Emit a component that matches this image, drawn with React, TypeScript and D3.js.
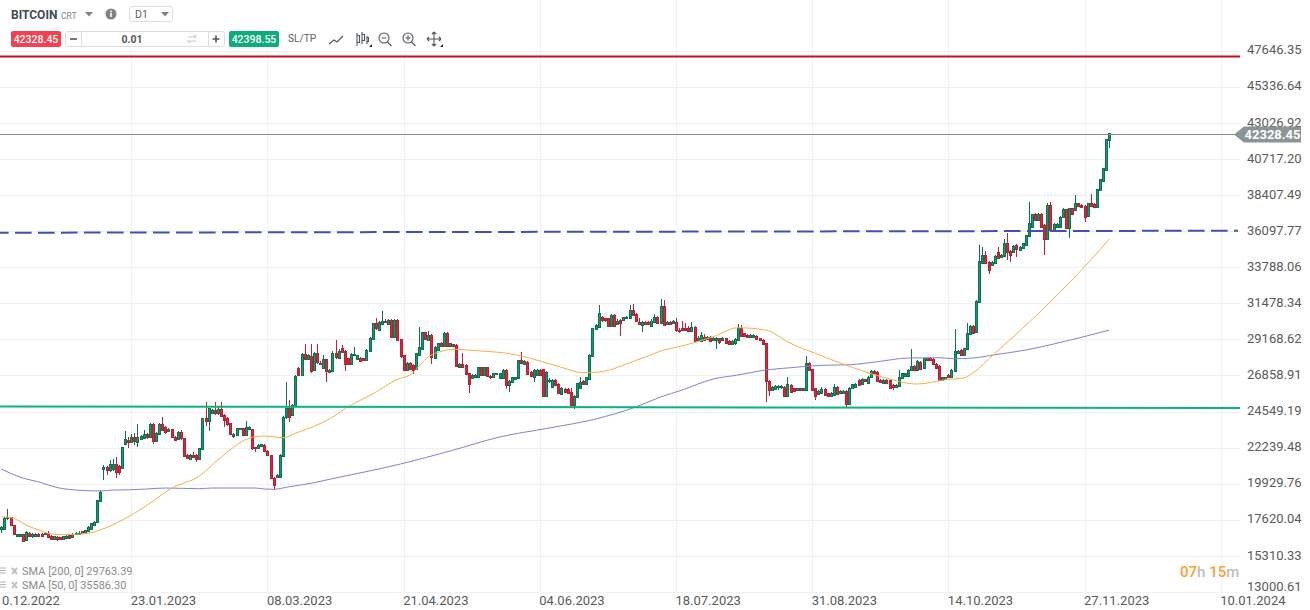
import { useEffect, useRef } from "react";
import * as d3 from "d3";

const WIDTH = 1310;
const HEIGHT = 610;

const priceTicks = [47646.35, 45336.64, 43026.92, 40717.2, 38407.49, 36097.77, 33788.06, 31478.34, 29168.62, 26858.91, 24549.19, 22239.48, 19929.76, 17620.04, 15310.33, 13000.61];
const dateTicks = ["10.12.2022", "23.01.2023", "08.03.2023", "21.04.2023", "04.06.2023", "18.07.2023", "31.08.2023", "14.10.2023", "27.11.2023", "10.01.2024"];
const firstCandleDay = "12.12.2022";
const currentPrice = 42328.45;

// daily candles
const opens = [
  17012, 17055, 17737, 17780, 17289, 16564, 16564, 16692, 16308, 16799,
  16628, 16628, 16735, 16735, 16670, 16799, 16585, 16372, 16543, 16500,
  16372, 16500, 16670, 16543, 16692, 16713, 16884, 16799, 16884, 17012,
  17310, 17460, 18825, 20852, 20979, 20766, 20852, 21171, 21065, 20937,
  22430, 22707, 22600, 22899, 22643, 22814, 22856, 23112, 22899, 23752,
  22643, 23112, 23752, 23539, 23262, 23411, 22943, 22772, 23220, 22836,
  21790, 21556, 21790, 21790, 21513, 22132, 24116, 23902, 24478, 24648,
  24435, 24713, 24350, 24116, 23795, 22942, 23006, 23411, 23475, 23049,
  23411, 23411, 22260, 22196, 22303, 22410, 22025, 21769, 20319, 20362,
  20404, 21748, 24180, 24755, 24350, 24926, 27315, 26910, 28232, 27934,
  28104, 27166, 28275, 27678, 27315, 27891, 27060, 27102, 28275, 28019,
  28617, 28446, 27955, 27593, 28190, 27913, 27998, 27955, 27848, 28382,
  29171, 30195, 29811, 30195, 30323, 30152, 30408, 29342, 30408, 29171,
  28169, 27209, 27678, 27529, 27273, 28169, 28531, 29619, 29129, 29448,
  27955, 28489, 28958, 28745, 29555, 28745, 28851, 28809, 27380, 27593,
  27529, 26995, 26718, 26740, 26718, 27379, 26889, 27379, 26825, 26718,
  26910, 26676, 26676, 27209, 26249, 26398, 26612, 26676, 27848, 27593,
  27742, 27102, 26782, 26889, 27209, 27252, 25545, 26500, 26100, 26569,
  26313, 25716, 26014, 25993, 25822, 24969, 25460, 26100, 26526, 26313,
  26612, 28105, 29811, 29982, 30622, 30515, 30515, 30024, 30728, 30195,
  30408, 30366, 30515, 30515, 31048, 30792, 30302, 30088, 30302, 30302,
  30024, 30302, 30622, 30238, 31304, 30195, 30302, 30195, 30259, 29790,
  29918, 29918, 29918, 29726, 29982, 29086, 29086, 29342, 29235, 29342,
  29129, 29129, 29235, 29129, 29235, 29086, 28915, 28915, 29086, 29875,
  29555, 29448, 29300, 29342, 29385, 29235, 29129, 28915, 26526, 25929,
  25972, 26100, 26100, 26142, 25545, 26249, 26036, 25886, 26036, 25886,
  25886, 27678, 27252, 26036, 25652, 25716, 25993, 25716, 25545, 25609,
  26142, 25716, 25758, 25886, 25033, 26036, 26100, 26569, 26313, 26612,
  26398, 26740, 27145, 27102, 26569, 26398, 26569, 26569, 26249, 26100,
  26142, 26676, 26825, 26825, 27209, 27465, 27252, 27742, 27315, 27955,
  27955, 27913, 27593, 27465, 26569, 26612, 26889, 26740, 27166, 28318,
  28489, 28169, 28531, 29512, 30024, 29662, 31583, 34079, 34569, 34143,
  33930, 34079, 34783, 34420, 34463, 35315, 34847, 34783, 35209, 34932,
  34996, 35209, 35785, 36383, 37193, 36809, 37193, 36489, 35572, 37769,
  36169, 36383, 36383, 36980, 37492, 36276, 37555, 37449, 37875, 37769,
  37705, 37022, 37875, 37833, 37620, 38686, 39262, 40009, 41886,
];
const highs = [
  17225, 17780, 18292, 17823, 17310, 16713, 16735, 16735, 16905, 16841,
  16756, 16756, 16756, 16770, 16820, 16884, 16628, 16585, 16585, 16543,
  16607, 16650, 16720, 16756, 16820, 16927, 16927, 16990, 17200, 17420,
  17525, 18910, 19500, 21107, 21065, 21449, 21491, 21619, 21107, 22302,
  23283, 22942, 23112, 23155, 23752, 23070, 23368, 23197, 23838, 23838,
  23240, 23795, 24179, 23600, 23475, 23450, 23000, 23300, 23368, 22880,
  21830, 21830, 21982, 21850, 22240, 24160, 25182, 24800, 24700, 25182,
  24900, 25182, 24400, 24170, 23840, 23150, 23520, 23520, 23520, 23945,
  23620, 23460, 22300, 22460, 22500, 22470, 22070, 21800, 20360, 20530,
  21830, 24270, 26462, 25289, 25030, 26870, 27400, 28300, 28872, 28210,
  28872, 28340, 28872, 27800, 28180, 27940, 27250, 28400, 29128, 28530,
  28809, 28500, 28000, 28270, 28702, 28180, 28050, 28000, 28550, 29300,
  30240, 30515, 30350, 30984, 30450, 30450, 30450, 30450, 30450, 29200,
  28200, 27700, 27720, 27570, 28320, 29982, 29660, 29660, 29725, 29490,
  28720, 28950, 29000, 29620, 29640, 28960, 28900, 28850, 27640, 28275,
  27570, 27040, 26930, 26930, 27400, 27420, 27420, 27420, 26870, 27040,
  27040, 27040, 27250, 27250, 26550, 26750, 26760, 27880, 28382, 27840,
  27790, 27140, 27250, 27250, 27300, 27290, 27140, 26700, 26660, 26650,
  26350, 26100, 26050, 26030, 26036, 25600, 26400, 26740, 26570, 26780,
  28210, 29920, 30130, 31368, 30660, 30560, 30560, 30770, 30770, 30450,
  30450, 30620, 30680, 31368, 31432, 30830, 30515, 30350, 30340, 30340,
  30450, 30800, 30660, 31730, 31690, 30340, 30340, 30400, 30515, 29900,
  30366, 30195, 30000, 30259, 30020, 29400, 29620, 29520, 29400, 29380,
  29320, 29320, 29280, 29300, 29280, 29120, 29150, 29230, 30131, 30088,
  29600, 29490, 29490, 29490, 29430, 29280, 29170, 28958, 26570, 26180,
  26230, 26250, 26260, 26190, 26782, 26300, 26080, 26080, 26080, 26080,
  28105, 27720, 27290, 26080, 25900, 26100, 26040, 25760, 25800, 26313,
  26190, 25900, 25930, 25930, 26120, 26320, 26350, 26610, 26720, 26650,
  26830, 27180, 27190, 27140, 26610, 26610, 26610, 26610, 26290, 26290,
  27209, 27040, 27040, 27250, 28532, 27500, 27850, 27790, 28000, 28000,
  28060, 27960, 27640, 27510, 26760, 26760, 26930, 27250, 29811, 28500,
  28530, 28640, 30195, 30100, 30060, 31690, 35209, 35103, 34846, 34190,
  34190, 34600, 35100, 34620, 35571, 35955, 34890, 35200, 35250, 35150,
  35360, 35870, 37982, 37220, 37230, 37230, 37230, 36530, 37876, 37982,
  36600, 36600, 37060, 37560, 37530, 37590, 37600, 38409, 37920, 37810,
  37750, 37900, 38473, 37880, 38800, 39430, 40160, 41980, 42400,
];
const lows = [
  16799, 16969, 17609, 17225, 16649, 16500, 16500, 16201, 16244, 16564,
  16479, 16585, 16607, 16607, 16628, 16500, 16350, 16330, 16287, 16330,
  16330, 16460, 16460, 16500, 16650, 16680, 16713, 16760, 16860, 16990,
  17260, 17440, 18800, 20169, 20489, 20700, 20766, 20318, 20489, 20852,
  22387, 22238, 22515, 22430, 22302, 22750, 22800, 22814, 22856, 22451,
  22600, 23070, 23283, 23112, 23220, 22860, 22750, 22700, 22750, 21620,
  21560, 21470, 21620, 21342, 21470, 22090, 23630, 23326, 24400, 24350,
  24300, 24200, 23540, 23630, 23020, 22850, 22960, 23370, 23000, 23000,
  23370, 22110, 21980, 22130, 22260, 21980, 21740, 20240, 19530, 20300,
  20360, 21700, 24100, 23902, 24300, 24880, 26850, 26860, 27830, 27880,
  26995, 27120, 27600, 27500, 27270, 26462, 27000, 27060, 27900, 27970,
  28270, 27166, 27500, 27550, 28130, 27850, 27740, 27800, 27800, 28340,
  29130, 29780, 29768, 30100, 30200, 30100, 29300, 29250, 29050, 27980,
  27150, 27150, 27270, 26950, 27230, 28100, 28490, 29100, 29090, 27593,
  27900, 28440, 28670, 28700, 28700, 28700, 28660, 27400, 27340, 27380,
  26900, 25759, 26670, 26700, 26670, 26850, 26850, 26740, 26640, 26670,
  26870, 26640, 26640, 25972, 25822, 26350, 26570, 26640, 27590, 27550,
  26950, 26780, 26462, 26850, 26850, 25460, 25500, 26400, 26050, 26200,
  25680, 25660, 25770, 25680, 24910, 24692, 25420, 26060, 26300, 26270,
  26570, 28060, 29770, 29940, 30300, 30300, 29980, 29980, 29980, 30150,
  29406, 30320, 30470, 30470, 30680, 30320, 30100, 29662, 30110, 30110,
  29980, 30260, 30200, 30200, 30020, 30150, 30150, 30150, 29662, 29560,
  29730, 29730, 29700, 29680, 29060, 29050, 29050, 29080, 29190, 28990,
  29090, 28530, 28900, 29090, 28870, 28870, 28870, 28809, 29040, 29370,
  29300, 29250, 29250, 29300, 29130, 29040, 28780, 25182, 25545, 25890,
  25930, 25950, 25980, 25500, 25500, 25780, 25800, 25840, 25880, 25840,
  25840, 27160, 25850, 25289, 25610, 25670, 25560, 25450, 25500, 25560,
  25670, 25670, 25710, 24820, 24990, 25990, 26060, 26200, 26270, 26420,
  26350, 26700, 26990, 26480, 26420, 26350, 26350, 25990, 25929, 26060,
  26100, 26640, 26780, 26780, 27160, 27160, 27210, 27270, 27270, 27800,
  27800, 27550, 27270, 26520, 26530, 26570, 26700, 26700, 27120, 28270,
  28100, 28130, 28490, 29470, 29590, 29620, 31540, 34040, 34000, 33354,
  33880, 33980, 34370, 34370, 34420, 34250, 34143, 34740, 34463, 34890,
  34950, 35170, 35740, 36340, 36770, 36770, 36340, 34569, 35530, 36120,
  36120, 36340, 36340, 36940, 36240, 35635, 37160, 37410, 37620, 37600,
  36700, 36980, 37620, 37620, 37580, 38640, 39220, 39960, 41395,
];
const closes = [
  17140, 17737, 17780, 17268, 16713, 16692, 16692, 16244, 16841, 16607,
  16735, 16735, 16628, 16628, 16756, 16543, 16372, 16564, 16393, 16372,
  16564, 16607, 16500, 16713, 16778, 16799, 16756, 16948, 17161, 17396,
  17503, 18889, 19422, 20979, 20766, 21171, 21171, 20681, 20681, 22259,
  22771, 22558, 22899, 22643, 22942, 22984, 23112, 22899, 23752, 22643,
  23155, 23752, 23368, 23197, 23411, 22900, 22772, 23220, 22836, 21662,
  21620, 21790, 21662, 21556, 22196, 24116, 23902, 24755, 24648, 24435,
  24713, 24265, 24009, 23753, 23070, 23092, 23475, 23475, 23049, 23539,
  23539, 22196, 22175, 22410, 22452, 22025, 21769, 20276, 19849, 20489,
  21791, 24222, 24755, 24180, 24969, 26824, 26888, 28232, 27934, 28168,
  27166, 28275, 27678, 27636, 27891, 27102, 27208, 28275, 28019, 28446,
  28382, 27635, 27593, 28212, 28233, 28148, 27806, 27848, 28489, 29235,
  30195, 29875, 30302, 30366, 30238, 30408, 29342, 30408, 29129, 28062,
  27209, 27678, 27315, 27209, 28275, 28659, 29619, 29171, 29448, 28062,
  28659, 28915, 28745, 29598, 28745, 28915, 28702, 27465, 27593, 27422,
  26953, 26313, 26889, 26868, 27379, 26889, 27379, 26782, 26740, 26995,
  26995, 26995, 27209, 26249, 26526, 26740, 26740, 27848, 27635, 27806,
  26995, 26825, 27209, 27209, 26889, 25545, 27102, 26569, 26569, 26249,
  25716, 26078, 25822, 25716, 24969, 25545, 26356, 26462, 26356, 26740,
  28169, 29875, 30088, 30878, 30408, 30366, 30024, 30728, 30024, 30366,
  30195, 30579, 30579, 31048, 30728, 30366, 30152, 30302, 30152, 30152,
  30366, 30622, 30238, 31304, 30067, 30302, 30195, 30344, 29726, 29750,
  29768, 29768, 29726, 29982, 29086, 29235, 29448, 29129, 29342, 29065,
  29235, 29235, 28958, 29235, 28915, 28915, 29086, 29171, 29875, 29385,
  29342, 29300, 29448, 29448, 29171, 29086, 28851, 26462, 25929, 26100,
  26185, 26185, 26185, 25545, 26313, 25822, 25865, 26036, 25929, 26036,
  27635, 27209, 25886, 25545, 25865, 25993, 25609, 25545, 25716, 26142,
  25716, 25865, 25886, 25033, 26078, 26292, 26313, 26249, 26612, 26462,
  26782, 27145, 27038, 26526, 26462, 26569, 26398, 26036, 26100, 26249,
  26740, 26995, 26995, 27209, 27465, 27209, 27806, 27315, 27955, 27848,
  27848, 27593, 27315, 26569, 26740, 26740, 26740, 27209, 28425, 28446,
  28169, 28595, 29555, 30024, 29598, 31645, 34186, 34569, 34037, 33610,
  34143, 34506, 34420, 34569, 35315, 34719, 34569, 35145, 34932, 35103,
  35316, 35849, 36596, 37193, 36809, 37193, 36383, 35572, 37769, 36169,
  36553, 36553, 37022, 37492, 36276, 37555, 37193, 37875, 37662, 37662,
  37022, 37875, 37662, 37662, 38771, 39411, 40115, 41971, 42355,
];

// moving averages: candle number and value readings
const sma200Days = [0, 6, 13, 18, 24, 32, 36, 42, 47, 53, 64, 68, 82, 85, 88, 93, 100, 106, 129, 145, 161, 177, 192, 205, 213, 220, 230, 238, 247, 255, 265, 274, 283, 293, 303, 308, 314, 321, 331, 340, 349, 358];
const sma200Values = [20872, 20360, 19995, 19688, 19528, 19464, 19528, 19547, 19592, 19656, 19611, 19656, 19656, 19592, 19573, 19739, 19957, 20213, 21192, 22024, 22920, 23496, 24072, 24840, 25480, 25928, 26632, 26888, 27208, 27355, 27509, 27547, 27739, 27976, 27995, 27931, 27976, 28187, 28488, 28872, 29301, 29763];
const sma50Days = [0, 4, 8, 13, 16, 20, 28, 32, 37, 43, 48, 55, 64, 70, 75, 80, 85, 91, 95, 102, 106, 113, 120, 128, 132, 138, 143, 146, 155, 162, 171, 181, 188, 194, 203, 209, 214, 218, 230, 238, 247, 255, 263, 272, 285, 296, 306, 311, 314, 321, 330, 339, 352, 358];
const sma50Values = [17819, 17717, 17288, 16904, 16712, 16667, 16757, 16968, 17397, 18037, 18677, 19637, 20424, 21448, 22261, 22837, 22984, 22875, 23157, 23688, 24072, 24968, 25672, 26613, 26888, 28059, 28445, 28533, 28424, 28315, 27957, 27381, 27035, 27099, 27675, 28104, 28488, 28661, 29339, 29915, 29768, 28917, 28277, 27592, 26741, 26312, 26613, 26696, 27035, 28277, 29877, 31579, 34248, 35586];

// drawn levels: value at the left end, value at the right end
const redLevel = [47272, 47272];
const blueLevel = [35995, 36125];
const greenLevel = [24880, 24776];

const parseDay = d3.timeParse("%d.%m.%Y");

function Toolbar() {
  return (
    <g fontFamily="Roboto, sans-serif">
      <rect x={0} y={0} width={445} height={50} fill="#fff" />
      <text x={11} y={19} fontSize={12} fontWeight={700} fill="#3f4b55">BITCOIN</text>
      <text x={61} y={19} fontSize={8.5} fill="#7b848b">CRT</text>
      <path d="M85 12h8l-4 4.5z" fill="#7b848b" />
      <circle cx={111} cy={14} r={5.5} fill="#7b848b" />
      <rect x={110.2} y={13} width={1.6} height={4} fill="#fff" />
      <rect x={110.2} y={10.6} width={1.6} height={1.6} fill="#fff" />
      <rect x={129.5} y={6.5} width={43} height={15} rx={2} fill="#fff" stroke="#dcdfe1" />
      <text x={135} y={18} fontSize={10.5} fill="#59636b">D1</text>
      <path d="M161 12h8l-4 4.5z" fill="#7b848b" />

      <rect x={11} y={31} width={50} height={16} rx={2} fill="#f5404f" />
      <text x={36} y={43} fontSize={10.5} fontWeight={500} fill="#fff" textAnchor="middle">42328.45</text>
      <rect x={65.5} y={31.5} width={159} height={15} rx={2} fill="#fff" stroke="#dcdfe1" />
      <path d="M81.5 32v14M208.5 32v14" stroke="#dcdfe1" />
      <path d="M70 39h7" stroke="#555" strokeWidth={1.6} />
      <path d="M212.5 39h7M216 35.5v7" stroke="#555" strokeWidth={1.6} />
      <text x={132} y={43} fontSize={10.5} fontWeight={700} fill="#555" textAnchor="middle">0.01</text>
      <path d="M188 37h8l-2-2M196 41h-8l2 2" stroke="#c6c9cc" strokeWidth={1.2} fill="none" />
      <rect x={229} y={31} width={50} height={16} rx={2} fill="#0bae78" />
      <text x={254} y={43} fontSize={10.5} fontWeight={500} fill="#fff" textAnchor="middle">42398.55</text>
      <text x={288} y={42} fontSize={10.2} fill="#59636b">SL/TP</text>

      <g stroke="#4f565c" fill="none" strokeWidth={1.1}>
        <path d="M329 44l5-4 3 2 6-6" />
        <path d="M357 33v13M357 35.5h2.5v7h-2.5zM362 32v12M362 34.5h2.5v6h-2.5zM367 36v8M367 37.5h1.5v4h-1.5z" />
        <circle cx={384} cy={38} r={5} />
        <path d="M381.5 38h5M387.5 42l4 4" />
        <circle cx={408} cy={38} r={5} />
        <path d="M405.5 38h5M408 35.5v5M411.5 42l4 4" />
        <path d="M434 32v14M427 39h14M434 32l-2 2M434 32l2 2M434 46l-2-2M434 46l2-2M427 39l2-2M427 39l2 2M441 39l-2-2M441 39l-2 2" />
      </g>
      <path d="M369 47l3-3v3zM440 47l3-3v3z" fill="#222" />
    </g>
  );
}

function Legend() {
  return (
    <g fontFamily="Roboto, sans-serif" fontSize={11} fill="#8b8b8b">
      <text x={22} y={575}>SMA [200, 0] 29763.39</text>
      <text x={22} y={589}>SMA [50, 0] 35586.30</text>
      <g stroke="#b5b5b5" strokeWidth={1.2}>
        <path d="M0 568h6M0 570.5h6M0 573h6M0 582h6M0 584.5h6M0 587h6" />
      </g>
      <g stroke="#c4c4c4" strokeWidth={2}>
        <path d="M12 568l5 6M17 568l-5 6M12 582l5 6M17 582l-5 6" />
      </g>
    </g>
  );
}

function Countdown() {
  return (
    <text x={1180} y={577} fontFamily="Roboto, sans-serif" fontSize={15} fontWeight={500} fill="#bdbdbd">
      <tspan fill="#f9a22f">07</tspan>h <tspan fill="#f9a22f">15</tspan>m
    </text>
  );
}

function App() {
  const chartRef = useRef<SVGGElement>(null);

  useEffect(() => {
    if (!chartRef.current) return;

    const g = d3.select(chartRef.current);
    g.selectAll("*").remove();

    const y = d3.scaleLinear().domain([13000.61, 47646.35]).range([592, 50.7]);

    const tickDays = dateTicks.map((d) => parseDay(d) as Date);
    const x = d3
      .scaleTime()
      .domain([tickDays[0], tickDays[tickDays.length - 1]])
      .range([-4.9, 1220.7]);

    const startDay = parseDay(firstCandleDay) as Date;
    const dayX = (i: number) => x(d3.timeDay.offset(startDay, i));

    // grid
    g.append("g")
      .selectAll("line")
      .data(priceTicks)
      .join("line")
      .attr("x1", 0)
      .attr("x2", 1240)
      .attr("y1", (d) => Math.round(y(d)) + 0.5)
      .attr("y2", (d) => Math.round(y(d)) + 0.5)
      .attr("stroke", "#f1f1f1");

    g.append("g")
      .selectAll("line")
      .data(tickDays)
      .join("line")
      .attr("x1", (d) => Math.round(x(d)) + 0.5)
      .attr("x2", (d) => Math.round(x(d)) + 0.5)
      .attr("y1", 0)
      .attr("y2", 592)
      .attr("stroke", "#f1f1f1");

    // axes
    const yAxis = g
      .append("g")
      .attr("transform", "translate(1240,0)")
      .call(
        d3
          .axisRight(y)
          .tickValues(priceTicks)
          .tickSize(0)
          .tickPadding(7)
          .tickFormat((d) => (+d).toFixed(2))
      );
    yAxis.select(".domain").remove();
    yAxis
      .selectAll<SVGTextElement, number>("text")
      .attr("font-family", "Roboto, sans-serif")
      .attr("font-size", 13)
      .attr("fill", "#5a5a5a")
      .attr("y", (d) => (d === 13000.61 ? -6 : -1));

    const xAxis = g
      .append("g")
      .attr("transform", "translate(0,592)")
      .call(
        d3
          .axisBottom(x)
          .tickValues(tickDays)
          .tickSize(0)
          .tickPadding(4)
          .tickFormat((d) => d3.timeFormat("%d.%m.%Y")(d as Date))
      );
    xAxis.select(".domain").remove();
    xAxis
      .selectAll("text")
      .attr("x", -1)
      .attr("text-anchor", "start")
      .attr("font-family", "Roboto, sans-serif")
      .attr("font-size", 13)
      .attr("fill", "#5a5a5a");

    // candles
    const candles = closes.map((_, i) => ({ i, o: opens[i], h: highs[i], l: lows[i], c: closes[i] }));
    const candle = g
      .append("g")
      .selectAll("g")
      .data(candles)
      .join("g")
      .attr("transform", (d) => `translate(${Math.round(dayX(d.i))},0)`);

    candle
      .append("line")
      .attr("x1", 0.5)
      .attr("x2", 0.5)
      .attr("y1", (d) => y(d.h))
      .attr("y2", (d) => y(d.l))
      .attr("stroke", (d) => (d.c >= d.o ? "#11704f" : "#c71f33"))
      .attr("shape-rendering", "crispEdges");

    candle
      .append("rect")
      .attr("x", -0.5)
      .attr("width", 2)
      .attr("y", (d) => Math.round(y(Math.max(d.o, d.c))) + 0.5)
      .attr("height", (d) => Math.max(1, Math.round(Math.abs(y(d.o) - y(d.c)))))
      .attr("fill", (d) => (d.c >= d.o ? "#169a6b" : "#e5203c"))
      .attr("stroke", (d) => (d.c >= d.o ? "#11704f" : "#b02534"))
      .attr("stroke-width", 1);

    // moving averages
    const drawSma = (days: number[], values: number[], color: string) => {
      const sma = d3
        .line<number>()
        .x((_, i) => dayX(days[i]))
        .y((d) => y(d))
        .curve(d3.curveMonotoneX);
      g.append("path")
        .attr("d", sma(values))
        .attr("fill", "none")
        .attr("stroke", color)
        .attr("stroke-width", 1);
    };
    drawSma(sma200Days, sma200Values, "#7c84d2");
    drawSma(sma50Days, sma50Values, "#f8ae48");

    // levels drawn over the chart
    const drawLevel = (values: number[], color: string, x2: number, dash?: string, offset?: number) => {
      g.append("line")
        .attr("x1", 0)
        .attr("x2", x2)
        .attr("y1", y(values[0]))
        .attr("y2", y(values[1]))
        .attr("stroke", color)
        .attr("stroke-width", 2)
        .attr("stroke-dasharray", dash ?? null)
        .attr("stroke-dashoffset", offset ?? null);
    };
    drawLevel(redLevel, "#c90d14", 1240);
    drawLevel(blueLevel, "#3f51b5", 1238, "16.6 6.4", 8);
    drawLevel(greenLevel, "#08b57f", 1240);

    // current price
    const py = Math.round(y(currentPrice)) + 0.5;
    g.append("line")
      .attr("x1", 0)
      .attr("x2", 1236)
      .attr("y1", py)
      .attr("y2", py)
      .attr("stroke", "#84918f")
      .attr("stroke-width", 1);
    g.append("path")
      .attr(
        "d",
        d3.line()([
          [1234, py],
          [1244, py - 8],
          [1301, py - 8],
          [1301, py + 8],
          [1244, py + 8],
        ]) + "Z"
      )
      .attr("fill", "#8a9596");
    g.append("text")
      .attr("x", 1244.5)
      .attr("y", py + 4.5)
      .attr("font-family", "Roboto, sans-serif")
      .attr("font-size", 13)
      .attr("font-weight", 700)
      .attr("fill", "#fff")
      .text(currentPrice.toFixed(2));
  }, []);

  return (
    <svg width={WIDTH} height={HEIGHT} style={{ position: "absolute", left: 0, top: 0, display: "block" }}>
      <rect width={WIDTH} height={HEIGHT} fill="#fff" />
      <g ref={chartRef} />
      <Toolbar />
      <Legend />
      <Countdown />
    </svg>
  );
}

export default App;
